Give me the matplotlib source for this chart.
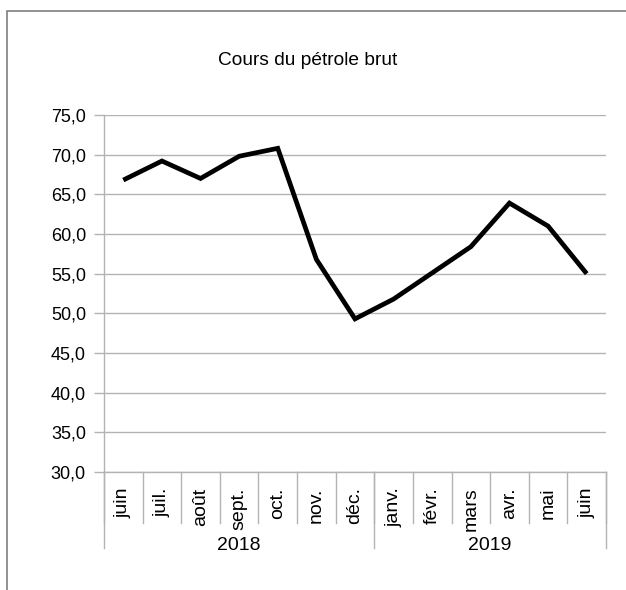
import matplotlib
matplotlib.use("Agg")
import matplotlib.pyplot as plt
from matplotlib.patches import Rectangle
from matplotlib.lines import Line2D

months = ["juin", "juil.", "août", "sept.", "oct.", "nov.", "déc.",
          "janv.", "févr.", "mars", "avr.", "mai", "juin"]
years = ["2018", "2019"]
year_counts = [7, 6]
prices = [66.8, 69.2, 67.0, 69.8, 70.8, 56.8, 49.3, 51.8, 55.1, 58.4, 63.9, 61.0, 55.0]
yticks = [30, 35, 40, 45, 50, 55, 60, 65, 70, 75]
title = "Cours du pétrole brut"

plt.rcParams['font.family'] = ['Liberation Sans', 'DejaVu Sans']

W, H = 626, 590
fig = plt.figure(figsize=(W / 100, H / 100), dpi=100)

def fx(px):
    return px / W

def fy(py):
    return 1 - py / H

# outer frame
fig.patches.append(Rectangle((fx(6.5), fy(600)), fx(700), fy(10.5) - fy(600),
                             transform=fig.transFigure, fill=False,
                             edgecolor='#7f7f7f', linewidth=1.2, zorder=0))

L, R, T, B = 104, 606, 115, 472
ax = fig.add_axes([fx(L), fy(B), fx(R) - fx(L), fy(T) - fy(B)])
grid_c = '#b3b3b3'

ax.plot(range(len(prices)), prices, color='black', linewidth=3.4,
        solid_joinstyle='miter', solid_capstyle='butt', zorder=3)

ax.set_xlim(-0.5, len(months) - 0.5)
ax.set_ylim(yticks[0], yticks[-1])
ax.set_yticks(yticks)
ax.set_yticklabels([f"{v:.1f}".replace('.', ',') for v in yticks], fontsize=13)
ax.tick_params(axis='y', length=7, width=1, color=grid_c, pad=6, labelcolor='black')
ax.set_xticks([])
ax.yaxis.grid(True, color=grid_c, linewidth=1)
ax.set_axisbelow(True)
for s in ['top', 'right']:
    ax.spines[s].set_visible(False)
for s in ['left', 'bottom']:
    ax.spines[s].set_color(grid_c)
    ax.spines[s].set_linewidth(1)

ph = B - T
def ay(py):
    return -(py - B) / ph

tr = ax.get_xaxis_transform()
# month separators
for i in range(len(months) + 1):
    xb = i - 0.5
    ax.add_line(Line2D([xb, xb], [0, ay(523)], transform=tr, color=grid_c,
                       linewidth=1, clip_on=False))
# year separators
bounds = [-0.5]
for c in year_counts:
    bounds.append(bounds[-1] + c)
for xb in bounds:
    ax.add_line(Line2D([xb, xb], [0, ay(548)], transform=tr, color=grid_c,
                       linewidth=1, clip_on=False))

for i, m in enumerate(months):
    ax.text(i, ay(487.5), m, transform=tr, rotation=90, ha='center', va='top',
            fontsize=14, color='black')
for k, y in enumerate(years):
    xc = (bounds[k] + bounds[k + 1]) / 2
    ax.text(xc, ay(545), y, transform=tr, ha='center', va='center',
            fontsize=14, color='black')

fig.text(fx(307.5), fy(65), title, ha='center', va='baseline', fontsize=13.8, color='black')

fig.savefig('out.png', dpi=100)
